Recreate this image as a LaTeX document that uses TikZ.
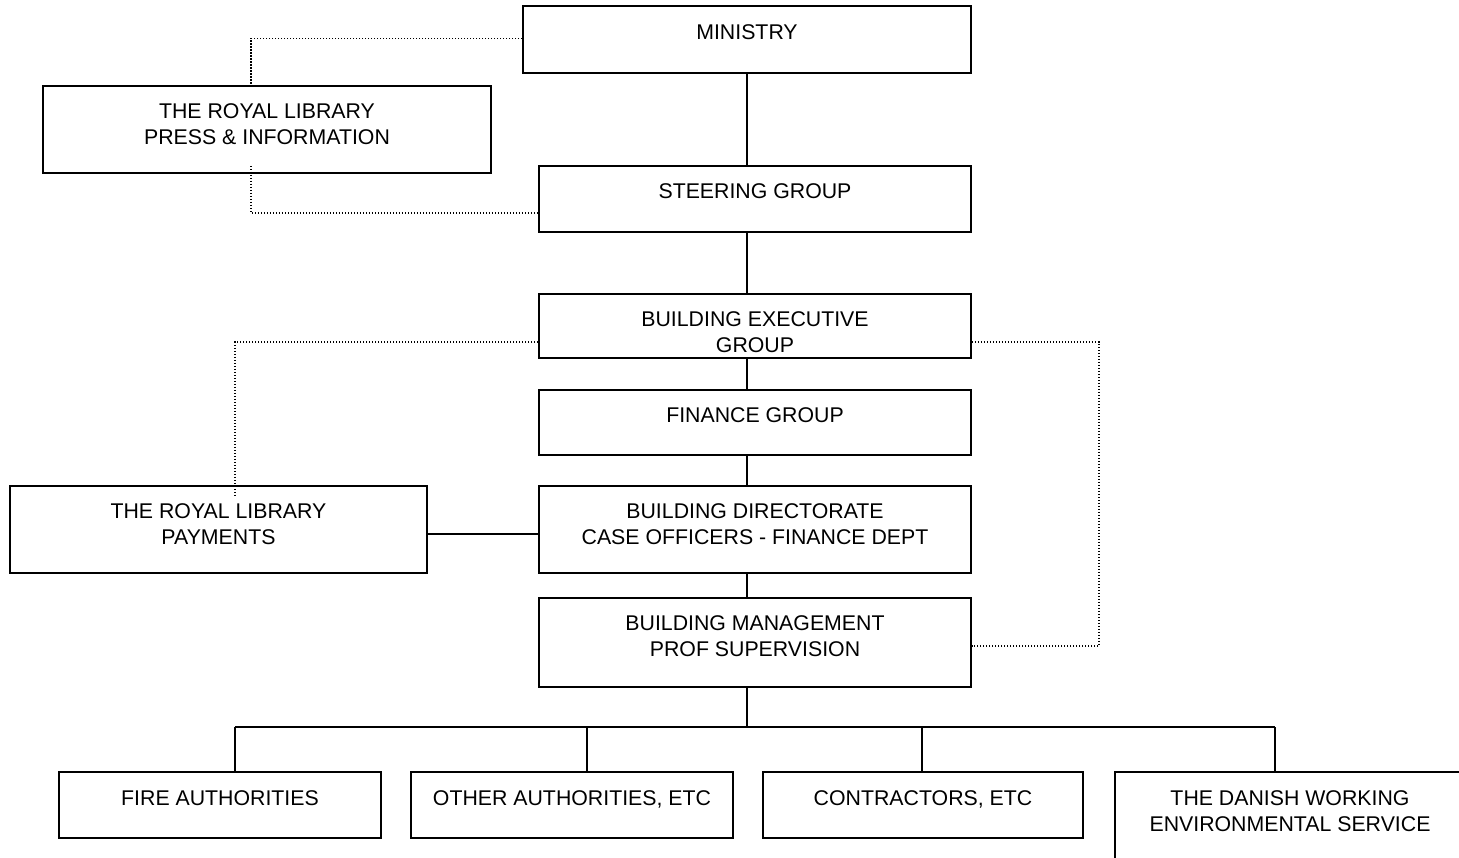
\documentclass[tikz,border=0pt]{standalone}
\usepackage{fontspec}
\setmainfont{Liberation Sans}
\usetikzlibrary{calc}
\tikzset{
  box/.style={draw=black, line width=1.8pt, rectangle, inner sep=0pt, fill=white},
  txt/.style={anchor=north, inner sep=0pt, align=center, font=\fontsize{21.3}{26}\selectfont},
  solidline/.style={draw=black, line width=1.8pt},
  dotline/.style={draw=black, line width=1.8pt, dash pattern=on 1.5pt off 1.5pt}
}
\begin{document}
\begin{tikzpicture}[x=1pt,y=-1pt]
\clip (0,0) rectangle (1459,858);
\fill[white] (0,0) rectangle (1459,858);
% boxes
\node[box, minimum width=448pt, minimum height=67pt] (min) at (747,39.5) {};
\node[box, minimum width=448pt, minimum height=87pt] (press) at (267,129.5) {};
\node[box, minimum width=432pt, minimum height=66pt] (steer) at (755,199) {};
\node[box, minimum width=432pt, minimum height=64pt] (exec) at (755,326) {};
\node[box, minimum width=432pt, minimum height=65pt] (fin) at (755,422.5) {};
\node[box, minimum width=432pt, minimum height=87pt] (dir) at (755,529.5) {};
\node[box, minimum width=417pt, minimum height=87pt] (pay) at (218.5,529.5) {};
\node[box, minimum width=432pt, minimum height=89pt] (mgmt) at (755,642.5) {};
\node[box, minimum width=322pt, minimum height=66pt] (fire) at (220,805) {};
\node[box, minimum width=322pt, minimum height=66pt] (other) at (572,805) {};
\node[box, minimum width=320pt, minimum height=66pt] (contr) at (923,805) {};
\node[box, minimum width=350pt, minimum height=128pt] (danish) at (1290,836) {};
% texts
\node[txt] (tmin) at ([yshift=-19pt]min.north) {MINISTRY};
\node[txt] (tpress) at ([yshift=-18pt]press.north) {THE ROYAL LIBRARY\\PRESS \& INFORMATION};
\node[txt] (tsteer) at ([yshift=-18.5pt]steer.north) {STEERING GROUP};
\node[txt] (texec) at ([yshift=-18pt]exec.north) {BUILDING EXECUTIVE\\GROUP};
\node[txt] (tfin) at ([yshift=-18pt]fin.north) {FINANCE GROUP};
\node[txt] (tdir) at ([yshift=-18pt]dir.north) {BUILDING DIRECTORATE\\CASE OFFICERS - FINANCE DEPT};
\node[txt] (tpay) at ([yshift=-18pt]pay.north) {THE ROYAL LIBRARY\\PAYMENTS};
\node[txt] (tmgmt) at ([yshift=-18pt]mgmt.north) {BUILDING MANAGEMENT\\PROF SUPERVISION};
\node[txt] (tfire) at ([yshift=-19pt]fire.north) {FIRE AUTHORITIES};
\node[txt] (tother) at ([yshift=-19pt]other.north) {OTHER AUTHORITIES, ETC};
\node[txt] (tcontr) at ([yshift=-19pt]contr.north) {CONTRACTORS, ETC};
\node[txt] (tdanish) at ([yshift=-19pt]danish.north) {THE DANISH WORKING\\ENVIRONMENTAL SERVICE};
% coordinates
\coordinate (sp) at (747,0);
\coordinate (pl) at (251,0);
\coordinate (ll) at (235,0);
\coordinate (rx) at (1099,0);
\coordinate (bus) at (747,727);
\coordinate (d1) at (235,727);
\coordinate (d2) at (587,727);
\coordinate (d3) at (922,727);
\coordinate (d4) at (1275,727);
\coordinate (plend) at (235,495);
% solid connectors
\draw[solidline] (min.south -| sp) -- (steer.north -| sp);
\draw[solidline] (steer.south -| sp) -- (exec.north -| sp);
\draw[solidline] (exec.south -| sp) -- (fin.north -| sp);
\draw[solidline] (fin.south -| sp) -- (dir.north -| sp);
\draw[solidline] (dir.south -| sp) -- (mgmt.north -| sp);
\draw[solidline] (mgmt.south -| sp) -- (bus);
\draw[solidline] (d1) -- (d4);
\draw[solidline] (d1) -- (fire.north -| d1);
\draw[solidline] (d2) -- (other.north -| d2);
\draw[solidline] (d3) -- (contr.north -| d3);
\draw[solidline] (d4) -- (danish.north -| d4);
\draw[solidline] ([yshift=-4.5pt]pay.east) -- ([yshift=-4.5pt]pay.east -| dir.west);
% dotted connectors
\draw[dotline] ([yshift=1pt]min.west) -- ([yshift=1pt]min.west -| pl) -- (press.north -| pl);
\draw[dotline] ([yshift=8pt]press.south -| pl) -- ([yshift=-14pt]steer.west -| pl) -- ([yshift=-14pt]steer.west);
\draw[dotline] ([yshift=-16pt]exec.west) -- ([yshift=-16pt]exec.west -| ll) -- (plend);
\draw[dotline] ([yshift=-16pt]exec.east) -- ([yshift=-16pt]exec.east -| rx) -- ([yshift=-3.5pt]mgmt.east -| rx) -- ([yshift=-3.5pt]mgmt.east);
\end{tikzpicture}
\end{document}
